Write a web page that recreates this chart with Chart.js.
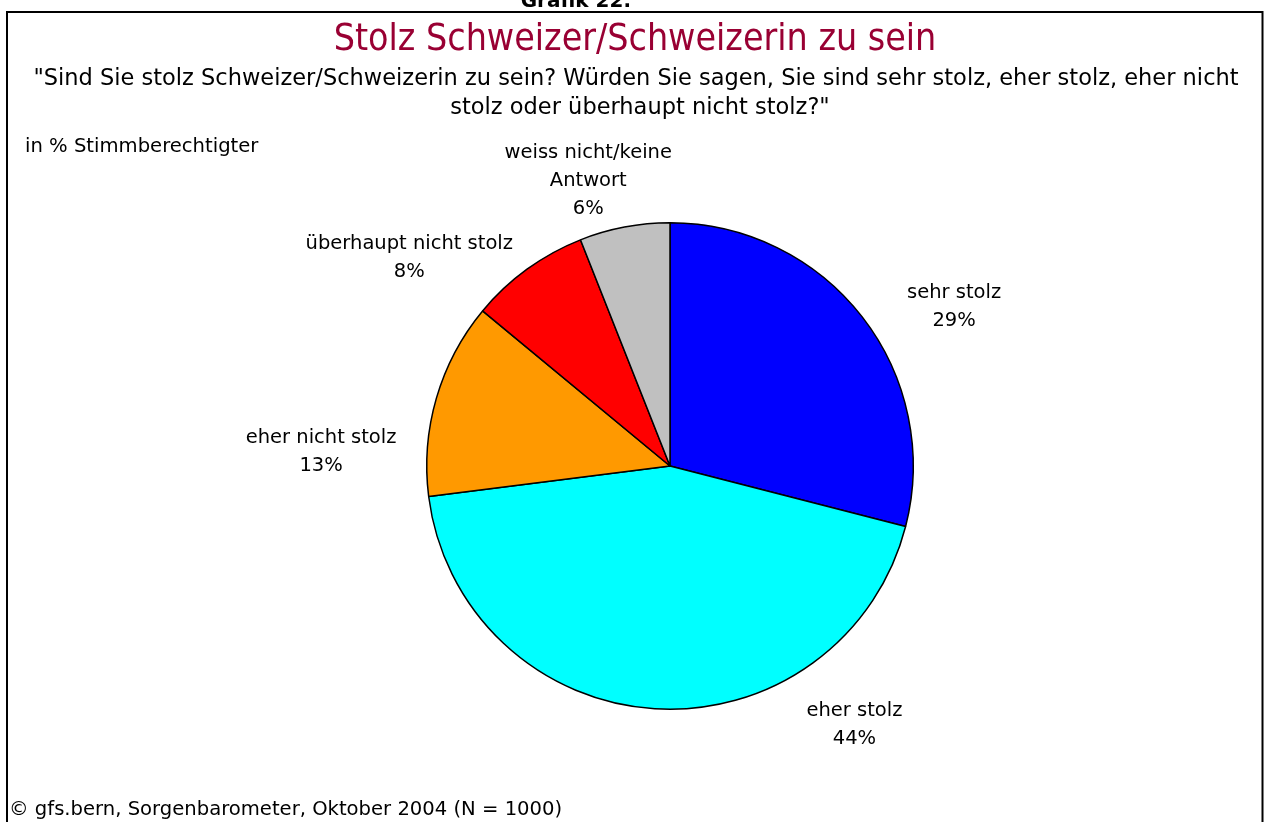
<!DOCTYPE html>
<html>
<head>
<meta charset="utf-8">
<script src="https://cdn.jsdelivr.net/npm/chart.js@4/dist/chart.umd.min.js"></script>
<style>
  html, body { margin: 0; padding: 0; background: #ffffff; }
  #c { display: block; }
</style>
</head>
<body>
<canvas id="c" width="1269" height="822"></canvas>
<script>
// ---- data ----
const categories = ["sehr stolz", "eher stolz", "eher nicht stolz", "überhaupt nicht stolz", "weiss nicht/keine Antwort"];
const labelLines = [["sehr stolz"], ["eher stolz"], ["eher nicht stolz"], ["überhaupt nicht stolz"], ["weiss nicht/keine", "Antwort"]];
const values = [29, 44, 13, 8, 6];
const colors = ["#0000FF", "#00FFFF", "#FF9900", "#FF0000", "#C0C0C0"];
const heading = "Grafik 22:";
const titleText = "Stolz Schweizer/Schweizerin zu sein";
const subtitleLines = ["\"Sind Sie stolz Schweizer/Schweizerin zu sein? Würden Sie sagen, Sie sind sehr stolz, eher stolz, eher nicht", "stolz oder überhaupt nicht stolz?\""];
const unitNote = "in % Stimmberechtigter";
const sourceNote = "© gfs.bern, Sorgenbarometer, Oktober 2004 (N = 1000)";

// label placement (style): offsets relative to pie centre, in units of radius
const labelOffsets = [
  [285 / 244, -169 / 244],
  [185 / 244, 251 / 244],
  [-350 / 244, -23 / 244],
  [-261.5 / 244, -218 / 244],
  [-82 / 244, -309 / 244]
];

const decor = {
  id: 'decor',
  afterDraw(chart) {
    const ctx = chart.ctx;
    ctx.save();
    // frame
    ctx.strokeStyle = '#000';
    ctx.lineWidth = 2;
    ctx.strokeRect(7, 12, 1255.5, 830);
    // heading (cut at top)
    ctx.fillStyle = '#000';
    ctx.textAlign = 'center';
    ctx.textBaseline = 'alphabetic';
    ctx.font = 'bold 20px "DejaVu Sans"';
    ctx.fillText(heading, 576, 7);
    // title
    ctx.fillStyle = '#990033';
    ctx.font = '37.2px "DejaVu Sans Condensed"';
    ctx.fillText(titleText, 635, 50);
    // subtitle
    ctx.fillStyle = '#000';
    ctx.font = '22.5px "DejaVu Sans"';
    ctx.fillText(subtitleLines[0], 636, 85);
    ctx.fillText(subtitleLines[1], 640, 114);
    // unit note
    ctx.textAlign = 'left';
    ctx.font = '19.6px "DejaVu Sans"';
    ctx.fillText(unitNote, 25, 152);
    // source
    ctx.fillText(sourceNote, 9, 815);
    // slice labels
    const meta = chart.getDatasetMeta(0);
    const arc0 = meta.data[0];
    const cx = arc0.x, cy = arc0.y, R = arc0.outerRadius;
    ctx.textAlign = 'center';
    ctx.font = '19.5px "DejaVu Sans"';
    const total = values.reduce((a, b) => a + b, 0);
    meta.data.forEach((arc, i) => {
      const lines = labelLines[i].concat([Math.round(values[i] / total * 100) + '%']);
      const x = cx + labelOffsets[i][0] * R;
      let y = cy + labelOffsets[i][1] * R;
      lines.forEach(t => { ctx.fillText(t, x, y); y += 28; });
    });
    ctx.restore();
  }
};

new Chart(document.getElementById('c'), {
  type: 'pie',
  data: {
    labels: categories,
    datasets: [{
      data: values,
      backgroundColor: colors,
      borderColor: '#000000',
      borderWidth: 1.5,
      borderAlign: 'center'
    }]
  },
  options: {
    responsive: false,
    animation: false,
    devicePixelRatio: 1,
    rotation: 0,
    layout: { padding: { top: 222, bottom: 112, left: 426, right: 355 } },
    plugins: {
      legend: { display: false },
      tooltip: { enabled: false }
    }
  },
  plugins: [decor]
});
</script>
</body>
</html>
